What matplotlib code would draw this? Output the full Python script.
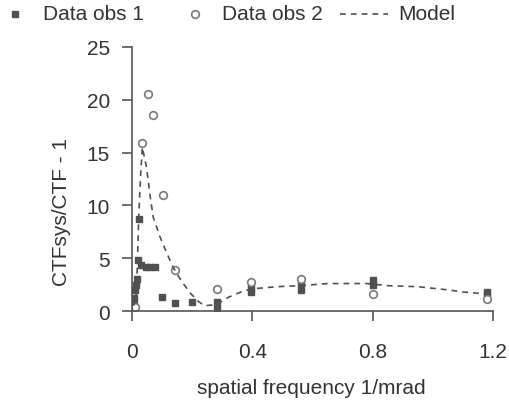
import numpy as np
import matplotlib.pyplot as plt
from matplotlib.lines import Line2D

plt.rcParams['font.family'] = ['Liberation Sans', 'DejaVu Sans']

# Data obs 1 (filled markers)
obs1_x = [0.005, 0.008, 0.01, 0.012, 0.015, 0.02, 0.023, 0.03, 0.045, 0.06, 0.075,
          0.10, 0.143, 0.20, 0.283, 0.283, 0.395, 0.395, 0.56, 0.56, 0.80, 0.80, 1.18, 1.18]
obs1_y = [0.6, 1.2, 2.0, 2.5, 3.0, 4.8, 8.7, 4.4, 4.2, 4.2, 4.2,
          1.35, 0.8, 0.9, 0.9, 0.3, 2.2, 1.8, 2.6, 2.0, 2.9, 2.5, 1.8, 1.4]

# Data obs 2 (open markers)
obs2_x = [0.01, 0.032, 0.054, 0.071, 0.102, 0.143, 0.283, 0.395, 0.56, 0.80, 1.18]
obs2_y = [0.4, 15.9, 20.5, 18.6, 11.0, 3.9, 2.1, 2.7, 3.0, 1.6, 1.1]

# Model curve
model_x = [0.005, 0.0145, 0.018, 0.022, 0.028, 0.034, 0.048, 0.059, 0.07, 0.093,
           0.115, 0.137, 0.165, 0.193, 0.221, 0.24, 0.28, 0.32, 0.37, 0.40, 0.48,
           0.56, 0.65, 0.78, 0.85, 0.95, 1.05, 1.10, 1.18]
model_y = [0.5, 1.7, 4.9, 8.9, 12.7, 15.5, 13.6, 11.1, 8.9, 7.0,
           5.5, 4.1, 2.8, 1.7, 0.9, 0.5, 0.6, 1.3, 1.9, 2.1, 2.3,
           2.4, 2.6, 2.6, 2.4, 2.3, 2.0, 1.8, 1.6]

txt = '#333333'
W, H = 510, 406
fig = plt.figure(figsize=(5.1, 4.06), dpi=100)
ax = fig.add_axes([0.259, 0.2315, 0.708, 0.6505])

obs1_style = dict(ls='none', marker='s', ms=4, color='#505050', mec='#505050')
obs2_style = dict(ls='none', marker='o', ms=5.5, mfc='white', mec='#7a7a7a', mew=1.2)
model_style = dict(ls='--', color='#505050', lw=1.2, dashes=(3.5, 3))

ax.plot(obs1_x, obs1_y, **obs1_style)
ax.plot(obs2_x, obs2_y, **obs2_style)
ax.plot(model_x, model_y, **model_style)

ax.set_xlim(0, 1.2)
ax.set_ylim(0, 25)
ax.set_xticks([0, 0.4, 0.8, 1.2])
ax.set_xticklabels(['0', '0.4', '0.8', '1.2'])
ax.set_yticks([0, 5, 10, 15, 20, 25])
for s in ['top', 'right']:
    ax.spines[s].set_visible(False)
for s in ['left', 'bottom']:
    ax.spines[s].set_color('#555555')
    ax.spines[s].set_linewidth(1.2)
ax.tick_params(axis='both', colors='#555555', labelcolor=txt, labelsize=15,
               length=7, width=1.2, direction='out')
ax.tick_params(axis='y', pad=9)
ax.tick_params(axis='x', pad=15)

fig.text(62 / W, 1 - 212 / H, 'CTFsys/CTF - 1', rotation=90, ha='center',
         va='center', fontsize=15, color=txt)
fig.text(311 / W, 1 - 389 / H, 'spatial frequency 1/mrad', ha='center',
         va='center', fontsize=15, color=txt)

# legend row along the top
ly = 1 - 15 / H
fig.add_artist(Line2D([15 / W], [ly], transform=fig.transFigure, **obs1_style))
fig.text(43 / W, ly, 'Data obs 1', ha='left', va='center', fontsize=15, color=txt)
fig.add_artist(Line2D([195 / W], [ly], transform=fig.transFigure, **obs2_style))
fig.text(222 / W, ly, 'Data obs 2', ha='left', va='center', fontsize=15, color=txt)
fig.add_artist(Line2D([340 / W, 388 / W], [ly, ly], transform=fig.transFigure, **model_style))
fig.text(398 / W, ly, 'Model', ha='left', va='center', fontsize=15, color=txt)

fig.savefig('out.png', dpi=100)
